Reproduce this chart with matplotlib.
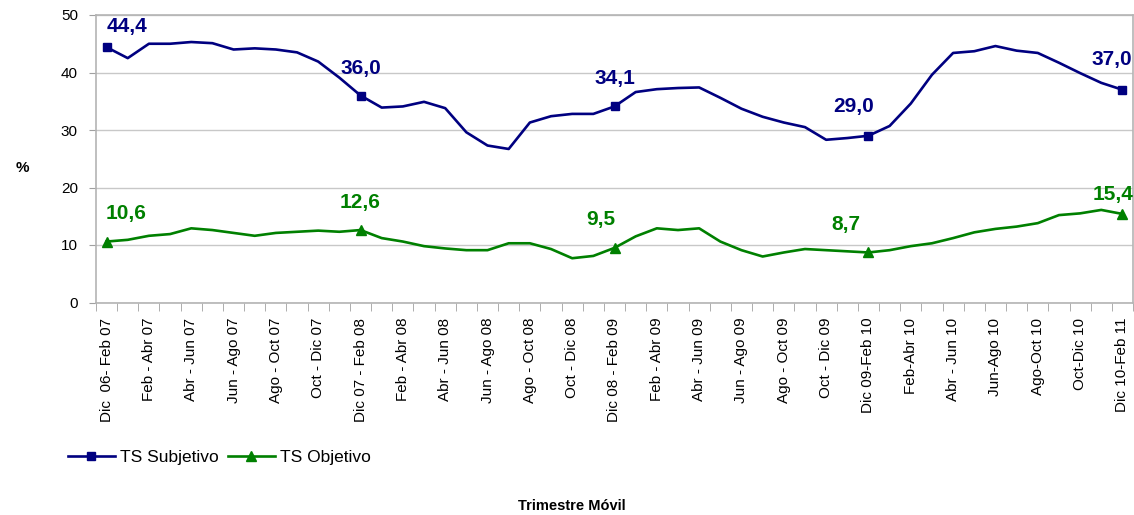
import numpy as np
import matplotlib.pyplot as plt

plt.rcParams['font.family'] = ['Liberation Sans', 'DejaVu Sans']

# trimestre movil, one point per month from Dic 06-Feb 07 to Dic 10-Feb 11
tick_labels = ['Dic  06- Feb 07', 'Feb - Abr 07', 'Abr - Jun 07', 'Jun - Ago 07',
               'Ago - Oct 07', 'Oct - Dic 07', 'Dic 07 - Feb 08', 'Feb - Abr 08',
               'Abr - Jun 08', 'Jun - Ago 08', 'Ago - Oct 08', 'Oct - Dic 08',
               'Dic 08 - Feb 09', 'Feb - Abr 09', 'Abr - Jun 09', 'Jun - Ago 09',
               'Ago - Oct 09', 'Oct - Dic 09', 'Dic 09-Feb 10', 'Feb-Abr 10',
               'Abr - Jun 10', 'Jun-Ago 10', 'Ago-Oct 10', 'Oct-Dic 10',
               'Dic 10-Feb 11']

ts_subjetivo = [44.4, 42.5, 45.0, 45.0, 45.3, 45.1, 44.0, 44.2, 44.0, 43.5,
                41.9, 39.1, 36.0, 33.9, 34.1, 34.9, 33.8, 29.6, 27.3, 26.7,
                31.3, 32.4, 32.8, 32.8, 34.1, 36.6, 37.1, 37.3, 37.4, 35.6,
                33.7, 32.3, 31.3, 30.5, 28.3, 28.6, 29.0, 30.7, 34.6, 39.6,
                43.4, 43.7, 44.6, 43.8, 43.4, 41.7, 39.9, 38.2, 37.0]

ts_objetivo = [10.6, 10.9, 11.6, 11.9, 12.9, 12.6, 12.1, 11.6, 12.1, 12.3,
               12.5, 12.3, 12.6, 11.2, 10.6, 9.8, 9.4, 9.1, 9.1, 10.3,
               10.3, 9.3, 7.7, 8.1, 9.5, 11.5, 12.9, 12.6, 12.9, 10.6,
               9.1, 8.0, 8.7, 9.3, 9.1, 8.9, 8.7, 9.1, 9.8, 10.3,
               11.2, 12.2, 12.8, 13.2, 13.8, 15.2, 15.5, 16.1, 15.4]

marked = [0, 12, 24, 36, 48]

blue = '#000080'
green = '#008000'

x = np.arange(len(ts_subjetivo))

fig = plt.figure(figsize=(11.34, 5.15), dpi=100)
ax = fig.add_axes([96 / 1134, 1 - 302.5 / 515, 1037 / 1134, 287.5 / 515])

ax.plot(x, ts_subjetivo, color=blue, lw=1.9, marker='s', ms=6,
        markevery=marked, label='TS Subjetivo')
ax.plot(x, ts_objetivo, color=green, lw=1.9, marker='^', ms=7,
        markevery=marked, label='TS Objetivo')

# value labels (offsets in pixels)
blue_off = [(20, 21), (0, 27), (0, 28), (-15, 29), (-11, 30)]
green_off = [(19, 28), (0, 28), (-14, 28), (-23, 28), (-9, 19)]
for i, (dx, dy) in zip(marked, blue_off):
    ax.annotate(f'{ts_subjetivo[i]:.1f}'.replace('.', ','), (i, ts_subjetivo[i]),
                xytext=(dx, dy), textcoords='offset pixels', ha='center',
                va='center', color=blue, fontsize=15, fontweight='bold')
for i, (dx, dy) in zip(marked, green_off):
    ax.annotate(f'{ts_objetivo[i]:.1f}'.replace('.', ','), (i, ts_objetivo[i]),
                xytext=(dx, dy), textcoords='offset pixels', ha='center',
                va='center', color=green, fontsize=15, fontweight='bold')

ax.set_xlim(-0.5, len(x) - 0.5)
ax.set_ylim(0, 50)
ax.set_yticks(range(0, 51, 10))
ax.tick_params(axis='y', labelsize=11, color='#a0a0a0', length=5, pad=8)
ax.grid(axis='y', color='#c8c8c8', lw=1)
ax.set_axisbelow(True)

ax.set_xticks(x[::2])
ax.set_xticklabels(tick_labels, rotation=90, fontsize=11)
ax.set_xticks(np.arange(-0.5, len(x)), minor=True)
ax.tick_params(axis='x', which='major', length=0, pad=11)
ax.tick_params(axis='x', which='minor', length=6, color='#a0a0a0')

for s in ax.spines.values():
    s.set_color('#b4b4b4')
    s.set_linewidth(1.2)

fig.text(22 / 1134, 1 - 168 / 515, '%', fontsize=11, fontweight='bold',
         ha='center', va='center')
fig.text(572 / 1134, 1 - 506 / 515, 'Trimestre Móvil',
         fontsize=10.5, fontweight='bold', ha='center', va='center')

fig.legend(loc='center left', bbox_to_anchor=(52 / 1134, 1 - 457 / 515),
           ncol=2, frameon=False, fontsize=12.5, handlelength=2.7,
           handletextpad=0.3, columnspacing=0.55)

fig.savefig('out.png', dpi=100)
